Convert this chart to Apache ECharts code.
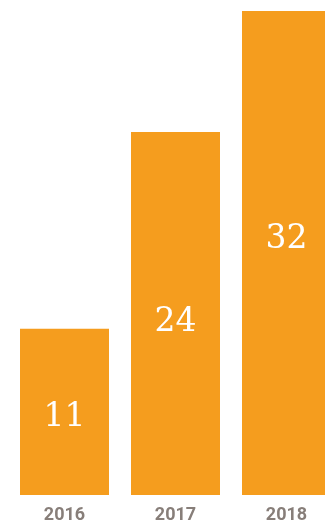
<!DOCTYPE html>
<html>
<head>
<meta charset="utf-8">
<script src="https://cdn.jsdelivr.net/npm/echarts@6/dist/echarts.min.js"></script>
<style>
html,body{margin:0;padding:0;background:#fff;overflow:hidden;width:325px;height:527px;}
#chart{width:342px;height:527px;}
</style>
</head>
<body>
<div id="chart"></div>
<script>
const categories = ['2016', '2017', '2018'];
const values = [11, 24, 32];
const labelOffsets = [[0, 6], [0, 9], [0, -14]];

const chart = echarts.init(document.getElementById('chart'), null, {renderer: 'canvas'});
chart.setOption({
  animation: false,
  grid: {left: 9, top: 0, bottom: 32, right: 0, containLabel: false},
  xAxis: {
    type: 'category',
    data: categories,
    axisLine: {show: false},
    axisTick: {show: false},
    axisLabel: {
      color: '#877e79',
      fontFamily: 'Roboto',
      fontWeight: 'bold',
      fontSize: 18,
      margin: 11
    }
  },
  yAxis: {type: 'value', min: 0, max: 32.73, show: false, splitLine: {show: false}},
  series: [{
    type: 'bar',
    barWidth: 89,
    data: values.map((v, i) => ({
      value: v,
      label: {offset: labelOffsets[i]}
    })),
    itemStyle: {color: '#F59D1E'},
    label: {
      show: true,
      position: 'inside',
      color: '#ffffff',
      fontFamily: 'DejaVu Serif',
      fontSize: 33,
      fontWeight: 'normal'
    }
  }]
});
</script>
</body>
</html>
